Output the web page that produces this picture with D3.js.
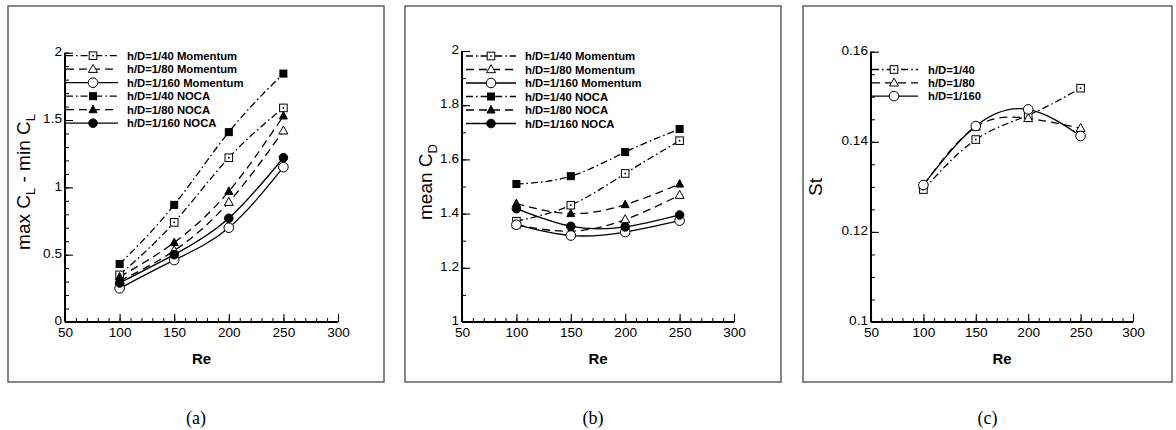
<!DOCTYPE html>
<html>
<head>
<meta charset="utf-8">
<script src="https://cdn.jsdelivr.net/npm/d3@7"></script>
<style>
  html, body { margin: 0; padding: 0; background: #fff; }
  svg { display: block; font-family: "Liberation Sans", Arial, sans-serif; }
</style>
</head>
<body>
<svg id="chart" width="1176" height="430"></svg>
<script>
// ---------------- data ----------------
const re = [100, 150, 200, 250];

// (a) max CL - min CL
const clMom40  = [0.35, 0.74, 1.22, 1.59];
const clMom80  = [0.305, 0.53, 0.89, 1.42];
const clMom160 = [0.25, 0.46, 0.70, 1.15];
const clNoca40  = [0.43, 0.87, 1.41, 1.845];
const clNoca80  = [0.335, 0.59, 0.97, 1.53];
const clNoca160 = [0.29, 0.50, 0.77, 1.22];

// (b) mean CD
const cdMom40  = [1.372, 1.431, 1.548, 1.669];
const cdMom80  = [1.359, 1.335, 1.378, 1.468];
const cdMom160 = [1.359, 1.319, 1.332, 1.374];
const cdNoca40  = [1.509, 1.538, 1.627, 1.712];
const cdNoca80  = [1.437, 1.400, 1.433, 1.509];
const cdNoca160 = [1.418, 1.353, 1.351, 1.395];

// (c) St
const st40  = [0.1294, 0.1405, 0.1459, 0.1519];
const st80  = [0.1304, 0.1433, 0.1452, 0.1430];
const st160 = [0.1304, 0.1435, 0.1472, 0.1413];

const labelsSix = ["h/D=1/40 Momentum", "h/D=1/80 Momentum", "h/D=1/160 Momentum",
                   "h/D=1/40 NOCA", "h/D=1/80 NOCA", "h/D=1/160 NOCA"];
const labelsThree = ["h/D=1/40", "h/D=1/80", "h/D=1/160"];

const xTicks = [50, 100, 150, 200, 250, 300];
const yTicksA = [0, 0.5, 1, 1.5, 2];
const yTicksB = [1, 1.2, 1.4, 1.6, 1.8, 2];
const yTicksC = [0.1, 0.12, 0.14, 0.16];
const yTickLabelsA = ["0", "0.5", "1", "1.5", "2"];
const yTickLabelsB = ["1", "1.2", "1.4", "1.6", "1.8", "2"];
const yTickLabelsC = ["0.1", "0.12", "0.14", "0.16"];

const captions = ["(a)", "(b)", "(c)"];

// ---------------- styles ----------------
const DASHDOT = "7,3,1.6,3";
const DASHED = "8,5";
const styleByRes = { "40": DASHDOT, "80": DASHED, "160": null };

const svg = d3.select("#chart");

function marker(g, type, filled, x, y) {
  const fill = filled ? "#000" : "#fff";
  if (type === "square") {
    const s = filled ? 7 : 7.6;
    g.append("rect").attr("x", x - s / 2).attr("y", y - s / 2).attr("width", s).attr("height", s)
      .attr("fill", fill).attr("stroke", "#000").attr("stroke-width", 1);
    if (!filled) g.append("rect").attr("x", x - 0.8).attr("y", y - 0.8).attr("width", 1.6).attr("height", 1.6).attr("fill", "#000");
  } else if (type === "triangle") {
    const w = filled ? 8 : 9, h = filled ? 7.5 : 8;
    const p = [[x, y - h * 0.6], [x - w / 2, y + h * 0.4], [x + w / 2, y + h * 0.4]];
    g.append("path").attr("d", "M" + p.join("L") + "Z")
      .attr("fill", fill).attr("stroke", "#000").attr("stroke-width", 1);
  } else {
    g.append("circle").attr("cx", x).attr("cy", y).attr("r", filled ? 4.3 : 4.8)
      .attr("fill", fill).attr("stroke", "#000").attr("stroke-width", 1);
  }
}

function drawPanel(cfg) {
  const g = svg.append("g");
  // frame
  g.append("rect").attr("x", cfg.frame[0]).attr("y", cfg.frame[1])
    .attr("width", cfg.frame[2] - cfg.frame[0]).attr("height", cfg.frame[3] - cfg.frame[1])
    .attr("fill", "none").attr("stroke", "#555").attr("stroke-width", 1.4);

  const x = d3.scaleLinear().domain([50, 300]).range(cfg.xr);
  const y = d3.scaleLinear().domain(cfg.yd).range(cfg.yr);

  // minor ticks
  g.append("g").attr("transform", `translate(0,${cfg.yr[0]})`)
    .call(d3.axisBottom(x).tickValues(d3.range(50, 301, 10)).tickSize(-4).tickFormat(""))
    .call(a => a.select(".domain").remove())
    .call(a => a.selectAll("line").attr("stroke-width", 1));
  g.append("g").attr("transform", `translate(${cfg.xr[0]},0)`)
    .call(d3.axisLeft(y).tickValues(cfg.yMinor).tickSize(-4).tickFormat(""))
    .call(a => a.select(".domain").remove())
    .call(a => a.selectAll("line").attr("stroke-width", 1));

  // major axes
  const xa = g.append("g").attr("transform", `translate(0,${cfg.yr[0]})`)
    .call(d3.axisBottom(x).tickValues(xTicks).tickSize(-8).tickSizeOuter(0).tickPadding(5).tickFormat(d3.format("d")));
  xa.select(".domain").attr("stroke-width", 2).attr("d", `M${cfg.xr[0]},0H${cfg.xr[1]}`);
  xa.selectAll("line").attr("stroke-width", 1.1);
  xa.selectAll("text").attr("font-size", 13.6).attr("font-family", "Liberation Sans, Arial, sans-serif").attr("fill", "#000");

  const ya = g.append("g").attr("transform", `translate(${cfg.xr[0]},0)`)
    .call(d3.axisLeft(y).tickValues(cfg.yTicks).tickSize(-8).tickSizeOuter(0).tickPadding(3)
      .tickFormat((d, i) => cfg.yTickLabels[i]));
  ya.select(".domain").attr("stroke-width", 2).attr("d", `M0,${cfg.yr[0]}V${cfg.yr[1]}`);
  ya.selectAll("line").attr("stroke-width", 1.1);
  ya.selectAll("text").attr("font-size", 13.6).attr("dy", "0.2em")
    .attr("font-family", "Liberation Sans, Arial, sans-serif").attr("fill", "#000");

  // axis titles
  g.append("text").attr("x", (cfg.xr[0] + cfg.xr[1]) / 2).attr("y", 364)
    .attr("text-anchor", "middle").attr("font-weight", "bold").attr("font-size", 15).text("Re");
  const yt = g.append("text").attr("transform", `translate(${cfg.ylabX},${cfg.ylabY}) rotate(-90)`)
    .attr("text-anchor", "middle").attr("font-size", 19);
  cfg.yTitle(yt);

  // series lines
  const line = d3.line().x((d, i) => x(re[i])).y(d => y(d)).curve(d3.curveNatural);
  cfg.series.forEach(s => {
    g.append("path").attr("d", line(s.values)).attr("fill", "none").attr("stroke", "#000")
      .attr("stroke-width", 1.3).attr("stroke-dasharray", styleByRes[s.res]);
  });
  cfg.series.forEach(s => {
    s.values.forEach((v, i) => marker(g, s.marker, s.filled, x(re[i]), y(v)));
  });

  // legend
  cfg.series.forEach((s, i) => {
    const ly = cfg.leg.y0 + i * cfg.leg.dy;
    g.append("line").attr("x1", cfg.leg.x0).attr("x2", cfg.leg.x1).attr("y1", ly).attr("y2", ly)
      .attr("stroke", "#000").attr("stroke-width", 1.3).attr("stroke-dasharray", styleByRes[s.res]);
    marker(g, s.marker, s.filled, cfg.leg.mx, ly);
    g.append("text").attr("x", cfg.leg.tx).attr("y", ly).attr("dy", "0.36em")
      .attr("font-weight", "bold").attr("font-size", 11.3).text(s.label);
  });

  // caption
  g.append("text").attr("x", (cfg.frame[0] + cfg.frame[2]) / 2).attr("y", 424)
    .attr("text-anchor", "middle").attr("font-family", "Liberation Serif, serif").attr("font-size", 18)
    .text(cfg.caption);
}

function sixSeries(m40, m80, m160, n40, n80, n160) {
  return [
    { values: m40, res: "40", marker: "square", filled: false, label: labelsSix[0] },
    { values: m80, res: "80", marker: "triangle", filled: false, label: labelsSix[1] },
    { values: m160, res: "160", marker: "circle", filled: false, label: labelsSix[2] },
    { values: n40, res: "40", marker: "square", filled: true, label: labelsSix[3] },
    { values: n80, res: "80", marker: "triangle", filled: true, label: labelsSix[4] },
    { values: n160, res: "160", marker: "circle", filled: true, label: labelsSix[5] }
  ];
}

function subTitle(t, parts) {
  parts.forEach(p => {
    const ts = t.append("tspan").text(p.t);
    if (p.sub) ts.attr("font-size", 13).attr("dy", 5);
    else if (p.after) ts.attr("dy", -5);
  });
}

drawPanel({
  frame: [8, 6, 384, 382],
  xr: [65, 338], yr: [322, 52.7], yd: [0, 2],
  yTicks: yTicksA, yTickLabels: yTickLabelsA,
  yMinor: d3.range(0, 2.001, 0.1).map(v => +v.toFixed(2)),
  ylabX: 30, ylabY: 182,
  yTitle: t => subTitle(t, [{ t: "max C" }, { t: "L", sub: true }, { t: " - min C", after: true }, { t: "L", sub: true }]),
  series: sixSeries(clMom40, clMom80, clMom160, clNoca40, clNoca80, clNoca160),
  leg: { x0: 66, x1: 118, mx: 93, tx: 127, y0: 55.7, dy: 13.5 },
  caption: captions[0]
});

drawPanel({
  frame: [405, 6, 781, 382],
  xr: [462, 734], yr: [322, 51], yd: [1, 2],
  yTicks: yTicksB, yTickLabels: yTickLabelsB,
  yMinor: d3.range(1, 2.001, 0.1).map(v => +v.toFixed(2)),
  ylabX: 432, ylabY: 182,
  yTitle: t => subTitle(t, [{ t: "mean C" }, { t: "D", sub: true }]),
  series: sixSeries(cdMom40, cdMom80, cdMom160, cdNoca40, cdNoca80, cdNoca160),
  leg: { x0: 466, x1: 516, mx: 491, tx: 525, y0: 56, dy: 13.5 },
  caption: captions[1]
});

drawPanel({
  frame: [803, 6, 1172, 382],
  xr: [871, 1133], yr: [322, 51.7], yd: [0.1, 0.16],
  yTicks: yTicksC, yTickLabels: yTickLabelsC,
  yMinor: d3.range(0.1, 0.1601, 0.005).map(v => +v.toFixed(3)),
  ylabX: 822, ylabY: 187,
  yTitle: t => subTitle(t, [{ t: "St" }]),
  series: [
    { values: st40, res: "40", marker: "square", filled: false, label: labelsThree[0] },
    { values: st80, res: "80", marker: "triangle", filled: false, label: labelsThree[1] },
    { values: st160, res: "160", marker: "circle", filled: false, label: labelsThree[2] }
  ],
  leg: { x0: 872, x1: 918, mx: 894, tx: 928, y0: 69.5, dy: 13.3 },
  caption: captions[2]
});
</script>
</body>
</html>
